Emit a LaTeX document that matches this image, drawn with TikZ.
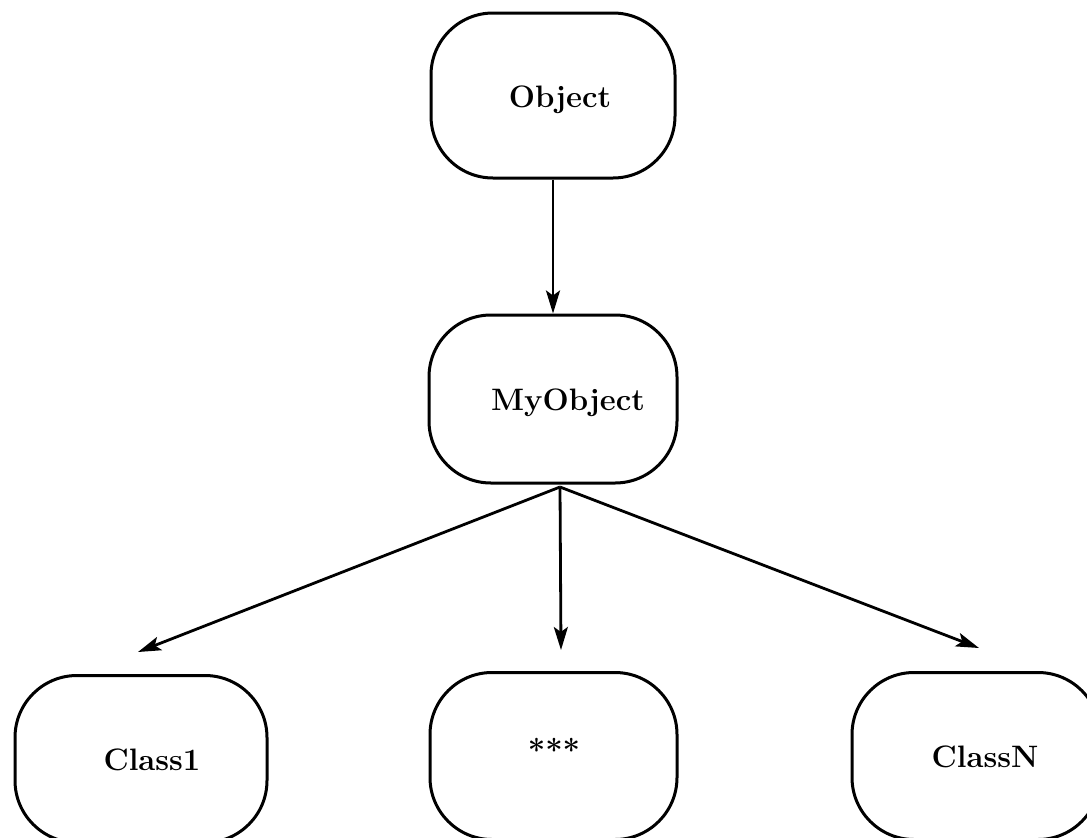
\documentclass[tikz,border=0pt]{standalone}
\usetikzlibrary{arrows.meta}
\begin{document}
\begin{tikzpicture}[x=1pt,y=-1pt,
  classbox/.style={draw, line width=3pt, rounded corners=62pt,
    minimum width=#1, minimum height=167pt, inner sep=0pt},
  classbox/.default=246pt,
  lbl/.style={font=\fontsize{31}{36}\selectfont\bfseries, inner sep=0pt},
  link/.style={line width=2.8pt, -{Stealth[length=23pt,width=14pt,inset=5pt]}}]
  % page frame and clipping of the lower row
  \useasboundingbox (0,0) rectangle (1087,838);
  \clip (0,0) rectangle (1087,838);

  % class boxes
  \node[classbox=244pt, minimum height=165pt] (obj) at (553,95.5) {};
  \node[classbox=248pt, minimum height=168pt] (myo) at (553,399) {};
  \node[classbox=252pt] (c1) at (141,759) {};
  \node[classbox=247pt] (cs) at (553.5,756) {};
  \node[classbox=248pt] (cn) at (976,756) {};

  % class names
  \node[lbl] (tobj) at (560,100) {Object};
  \node[lbl] (tmyo) at (568,403) {MyObject};
  \node[lbl] (tc1) at (152,760) {Class1};
  \node[lbl] (tcs) at (554,750) {***};
  \node[lbl] (tcn) at (985,757) {ClassN};

  % connector end points
  \coordinate (fork) at (560,487);
  \coordinate (e1) at (138,652);
  \coordinate (e2) at (561,650);
  \coordinate (e3) at (979,648);

  % inheritance arrows
  \draw[link] (obj.south) -- (myo.north);
  \draw[link] (fork) -- (e1);
  \draw[link] (fork) -- (e2);
  \draw[link] (fork) -- (e3);
\end{tikzpicture}
\end{document}
